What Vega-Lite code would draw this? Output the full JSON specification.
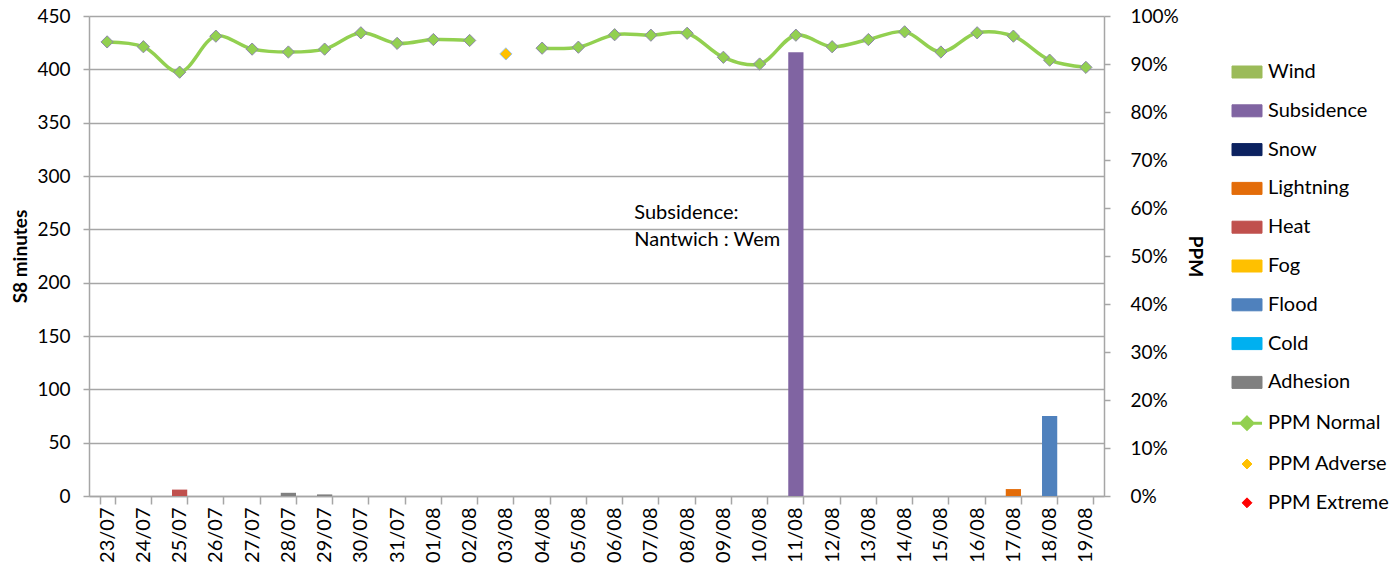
{
  "$schema": "https://vega.github.io/schema/vega-lite/v6.json",
  "width": 1015,
  "height": 480,
  "autosize": "none",
  "padding": {"left": 89, "top": 16, "right": 290, "bottom": 76},
  "background": "white",
  "config": {
    "font": "Lato",
    "view": {"stroke": null},
    "axis": {"labelColor": "#000000", "titleColor": "#000000", "domainColor": "#A6A6A6", "tickColor": "#A6A6A6", "gridColor": "#A6A6A6"}
  },
  "datasets": {
    "bars": [
      {"date": "25/07", "cause": "Heat", "minutes": 6},
      {"date": "28/07", "cause": "Adhesion", "minutes": 3},
      {"date": "29/07", "cause": "Adhesion", "minutes": 1.5},
      {"date": "11/08", "cause": "Subsidence", "minutes": 416},
      {"date": "17/08", "cause": "Lightning", "minutes": 6.5},
      {"date": "18/08", "cause": "Flood", "minutes": 75}
    ],
    "ppm": [
      {"date": "23/07", "type": "PPM Normal", "ppm": 0.946},
      {"date": "24/07", "type": "PPM Normal", "ppm": 0.936},
      {"date": "25/07", "type": "PPM Normal", "ppm": 0.883},
      {"date": "26/07", "type": "PPM Normal", "ppm": 0.958},
      {"date": "27/07", "type": "PPM Normal", "ppm": 0.931},
      {"date": "28/07", "type": "PPM Normal", "ppm": 0.925},
      {"date": "29/07", "type": "PPM Normal", "ppm": 0.931},
      {"date": "30/07", "type": "PPM Normal", "ppm": 0.965},
      {"date": "31/07", "type": "PPM Normal", "ppm": 0.943},
      {"date": "01/08", "type": "PPM Normal", "ppm": 0.951},
      {"date": "02/08", "type": "PPM Normal", "ppm": 0.949},
      {"date": "03/08", "type": "PPM Normal", "ppm": null},
      {"date": "04/08", "type": "PPM Normal", "ppm": 0.933},
      {"date": "05/08", "type": "PPM Normal", "ppm": 0.935},
      {"date": "06/08", "type": "PPM Normal", "ppm": 0.961},
      {"date": "07/08", "type": "PPM Normal", "ppm": 0.960},
      {"date": "08/08", "type": "PPM Normal", "ppm": 0.964},
      {"date": "09/08", "type": "PPM Normal", "ppm": 0.914},
      {"date": "10/08", "type": "PPM Normal", "ppm": 0.900},
      {"date": "11/08", "type": "PPM Normal", "ppm": 0.960},
      {"date": "12/08", "type": "PPM Normal", "ppm": 0.936},
      {"date": "13/08", "type": "PPM Normal", "ppm": 0.951},
      {"date": "14/08", "type": "PPM Normal", "ppm": 0.967},
      {"date": "15/08", "type": "PPM Normal", "ppm": 0.925},
      {"date": "16/08", "type": "PPM Normal", "ppm": 0.965},
      {"date": "17/08", "type": "PPM Normal", "ppm": 0.958},
      {"date": "18/08", "type": "PPM Normal", "ppm": 0.908},
      {"date": "19/08", "type": "PPM Normal", "ppm": 0.893}
    ],
    "adverse": [
      {"date": "03/08", "type": "PPM Adverse", "ppm": 0.921}
    ],
    "notes": [
      {"date": "07/08", "minutes": 275, "label": ["Subsidence:", "Nantwich : Wem"]}
    ]
  },
  "layer": [
    {
      "layer": [
        {
          "data": {"name": "bars"},
          "mark": {"type": "bar"},
          "encoding": {
            "x": {
              "field": "date", "type": "nominal", "sort": null, "title": null,
              "scale": {"domain": ["23/07","24/07","25/07","26/07","27/07","28/07","29/07","30/07","31/07","01/08","02/08","03/08","04/08","05/08","06/08","07/08","08/08","09/08","10/08","11/08","12/08","13/08","14/08","15/08","16/08","17/08","18/08","19/08"], "paddingInner": 0.58, "paddingOuter": 0.29},
              "axis": {"labelAngle": -90, "labelFontSize": 20, "tickBand": "extent", "tickSize": 8, "labelPadding": 3, "domainWidth": 1.5, "tickWidth": 1.5, "labelBaseline": "middle", "labelAlign": "right"}
            },
            "y": {
              "field": "minutes", "type": "quantitative", "stack": "zero",
              "scale": {"domain": [0, 450], "nice": false},
              "axis": {"values": [0,50,100,150,200,250,300,350,400,450], "title": "S8 minutes", "titleFontSize": 19, "titleFontWeight": "bold", "titlePadding": 6, "labelFontSize": 19, "tickSize": 6, "labelPadding": 13, "grid": true, "gridWidth": 1.5, "domainWidth": 1.5, "tickWidth": 1.5}
            },
            "color": {
              "field": "cause", "type": "nominal",
              "scale": {
                "domain": ["Wind","Subsidence","Snow","Lightning","Heat","Fog","Flood","Cold","Adhesion","PPM Normal","PPM Adverse","PPM Extreme"],
                "range": ["#9BBB59","#8064A2","#0C2260","#E36C09","#C0504D","#FFC000","#4F81BD","#00B0F0","#808080","#92D050","#FFC000","#FF0000"]
              },
              "legend": {
                "title": null,
                "orient": "none",
                "legendX": 1148,
                "legendY": 46,
                "labelFontSize": 20,
                "labelColor": "#000000",
                "labelOffset": 11,
                "symbolSize": 900,
                "rowPadding": 18.8,
                "padding": 0,
                "labelLimit": 200,
                "encode": {
                  "symbols": {
                    "update": {
                      "shape": {"signal": "datum.value === 'PPM Normal' ? 'M-1,0L1,0M0,-0.4L0.4,0L0,0.4L-0.4,0Z' : (datum.value === 'PPM Adverse' || datum.value === 'PPM Extreme') ? 'M0,-0.33L0.33,0L0,0.33L-0.33,0Z' : 'M-1,-0.4L1,-0.4L1,0.4L-1,0.4Z'"},
                      "fill": {"signal": "scale('color', datum.value)"},
                      "stroke": {"signal": "datum.value === 'PPM Normal' ? '#92D050' : datum.value === 'PPM Adverse' ? '#9DC3E6' : 'transparent'"},
                      "strokeWidth": {"signal": "datum.value === 'PPM Normal' ? 3 : 1"},
                      "opacity": {"value": 1},
                      "fillOpacity": {"value": 1},
                      "strokeOpacity": {"value": 1}
                    }
                  }
                }
              }
            }
          }
        },
        {
          "data": {"name": "notes"},
          "mark": {"type": "text", "align": "left", "baseline": "top", "fontSize": 20, "lineHeight": 27, "color": "#000000", "dx": -9},
          "encoding": {
            "x": {"field": "date", "type": "nominal", "sort": null, "bandPosition": 0},
            "y": {"field": "minutes", "type": "quantitative"},
            "text": {"field": "label"}
          }
        }
      ]
    },
    {
      "layer": [
        {
          "data": {"name": "ppm"},
          "mark": {"type": "line", "interpolate": "catmull-rom", "strokeWidth": 3.5, "invalid": "break-paths-filter-domains"},
          "encoding": {
            "x": {"field": "date", "type": "nominal", "sort": null},
            "y": {"field": "ppm", "type": "quantitative", "scale": {"domain": [0, 1], "nice": false},
              "axis": {"orient": "right", "format": ".0%", "values": [0,0.1,0.2,0.3,0.4,0.5,0.6,0.7,0.8,0.9,1], "title": "PPM", "titleFontSize": 19, "titleFontWeight": "bold", "titlePadding": 6, "labelFontSize": 19, "tickSize": 6, "labelPadding": 20, "grid": false, "domainWidth": 1.5, "tickWidth": 1.5}},
            "color": {"field": "type", "type": "nominal"}
          }
        },
        {
          "data": {"name": "ppm"},
          "mark": {"type": "point", "shape": "diamond", "filled": true, "size": 150, "stroke": "#8C87A8", "strokeWidth": 1, "opacity": 1},
          "encoding": {
            "x": {"field": "date", "type": "nominal", "sort": null},
            "y": {"field": "ppm", "type": "quantitative"},
            "color": {"field": "type", "type": "nominal"}
          }
        },
        {
          "data": {"name": "adverse"},
          "mark": {"type": "point", "shape": "diamond", "filled": true, "size": 150, "stroke": "#9DC3E6", "strokeWidth": 1, "opacity": 1},
          "encoding": {
            "x": {"field": "date", "type": "nominal", "sort": null},
            "y": {"field": "ppm", "type": "quantitative"},
            "color": {"field": "type", "type": "nominal"}
          }
        }
      ]
    }
  ],
  "resolve": {"scale": {"y": "independent"}}
}
